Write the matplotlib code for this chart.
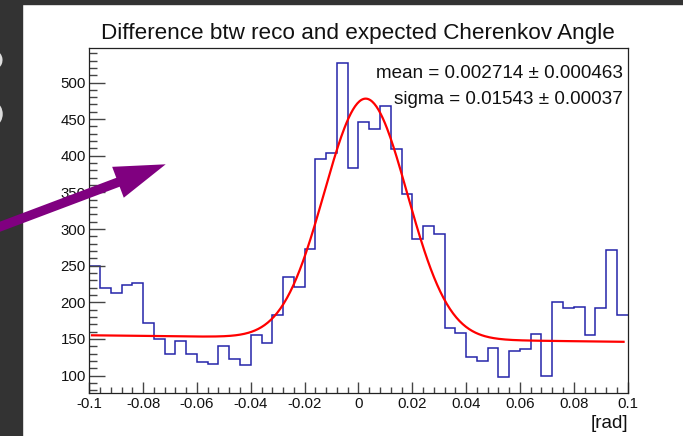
import matplotlib
matplotlib.use('Agg')
import matplotlib.pyplot as plt
import numpy as np
from matplotlib.patches import Rectangle, FancyArrow, Arc
from matplotlib.transforms import IdentityTransform
from matplotlib.ticker import MultipleLocator, FuncFormatter

plt.rcParams['font.family'] = ['Liberation Sans', 'DejaVu Sans']

# histogram: 50 bins from -0.1 to 0.1
bin_edges = np.linspace(-0.1, 0.1, 51)
counts = [250, 219, 213, 224, 226, 172, 150, 129, 147, 129,
          119, 116, 141, 122, 114, 155, 144, 182, 235, 221,
          273, 396, 404, 526, 383, 446, 437, 468, 409, 348,
          287, 304, 293, 165, 158, 126, 120, 137, 98, 134,
          136, 157, 100, 201, 192, 193, 156, 192, 271, 182]

# fit: gaus + pol1
fit_mean = 0.002714
fit_sigma = 0.01543
fit_amp = 327.6
bkg_p0 = 150.5
bkg_p1 = -45.0
fit_range = (-0.099, 0.0985)

title = "Difference btw reco and expected Cherenkov Angle"
stat_lines = ["mean = 0.002714 \u00b1 0.000463",
              "sigma = 0.01543 \u00b1 0.00037"]


def xfmt(v, pos):
    if abs(v) < 1e-9:
        return '0'
    return '%g' % round(v, 4)


W, H = 683, 436
fig = plt.figure(figsize=(W / 100, H / 100), dpi=100)
fig.patch.set_facecolor('white')

ax = fig.add_axes([89.3 / W, 1 - 392.7 / H, (627.6 - 89.3) / W, (392.7 - 47.7) / H])

ax.stairs(counts, bin_edges, baseline=None, color='#2525aa', lw=1.1)

xf = np.linspace(fit_range[0], fit_range[1], 500)
yf = bkg_p0 + bkg_p1 * xf + fit_amp * np.exp(-0.5 * ((xf - fit_mean) / fit_sigma) ** 2)
ax.plot(xf, yf, color='#ff0000', lw=1.6)

ax.set_xlim(-0.1, 0.1)
ax.set_ylim(76.6, 547.5)

ax.xaxis.set_major_locator(MultipleLocator(0.02))
ax.xaxis.set_minor_locator(MultipleLocator(0.004))
ax.yaxis.set_major_locator(MultipleLocator(50))
ax.yaxis.set_minor_locator(MultipleLocator(10))
ax.xaxis.set_major_formatter(FuncFormatter(xfmt))
ax.yaxis.set_major_formatter(FuncFormatter(lambda v, p: '%d' % v))

ax.tick_params(axis='both', which='both', direction='in', top=False, right=False,
               colors='#444444', labelcolor='#111111', labelsize=10.8)
ax.tick_params(axis='y', which='major', length=11.5, width=1.0, pad=2.5)
ax.tick_params(axis='y', which='minor', length=5.8, width=1.0)
ax.tick_params(axis='x', which='major', length=8, width=1.0, pad=3)
ax.tick_params(axis='x', which='minor', length=4.3, width=1.0)
for s in ax.spines.values():
    s.set_color('#222222')
    s.set_linewidth(0.9)

fig.text(358 / W, 1 - 39.3 / H, title, ha='center', va='baseline', fontsize=16.2, color='#111111')
fig.text(622.5 / W, 1 - 78 / H, stat_lines[0], ha='right', va='baseline', fontsize=13.6, color='#111111')
fig.text(622.5 / W, 1 - 104.3 / H, stat_lines[1], ha='right', va='baseline', fontsize=13.6, color='#111111')
fig.text(628 / W, 1 - 427.7 / H, "[rad]", ha='right', va='baseline', fontsize=13.5, color='#111111')

# dark slide background around the screenshot, with clipped bits of slide lettering
fig.add_artist(Rectangle((0, 0), 22, H, transform=IdentityTransform(), color='#333333', zorder=5))
fig.add_artist(Rectangle((0, H - 4), W, 4, transform=IdentityTransform(), color='#333333', zorder=5))
fig.add_artist(Arc((-6, H - 60), 14, 16, theta1=-60, theta2=75, transform=IdentityTransform(),
                   color='#dddddd', lw=2.2, zorder=6))
fig.add_artist(Arc((-8, H - 114), 18, 22, theta1=-75, theta2=75, transform=IdentityTransform(),
                   color='#dddddd', lw=2.5, zorder=6))

# purple arrow
fig.add_artist(FancyArrow(-30, 198.0, 195.7, 73.7, width=9.5, head_width=33, head_length=51,
                          length_includes_head=True, transform=IdentityTransform(),
                          color='#800080', lw=0, zorder=7))

fig.savefig('out.png', dpi=100)
